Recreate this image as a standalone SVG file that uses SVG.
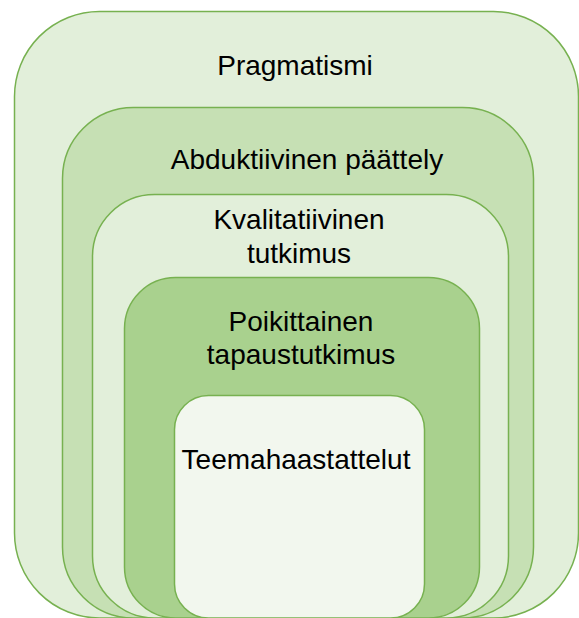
<svg xmlns="http://www.w3.org/2000/svg" width="579" height="618" viewBox="0 0 579 618">
  <style>
    .box { stroke: #77b150; stroke-width: 1.5; }
    .lbl { font-family: "Liberation Sans", Arial, sans-serif; font-size: 28px; fill: #000; text-anchor: middle; }
  </style>
  <rect width="579" height="618" fill="#ffffff"/>
  <g id="pragmatismi">
    <rect class="box" x="14.5" y="11.5" width="564" height="606.5" rx="85" ry="85" fill="#e2efda"/>
    <text class="lbl" x="295" y="75">Pragmatismi</text>
  </g>
  <g id="abduktiivinen-paattely">
    <rect class="box" x="62.5" y="107.5" width="471" height="510.5" rx="71" ry="71" fill="#c6e0b4"/>
    <text class="lbl" x="307" y="169">Abduktiivinen päättely</text>
  </g>
  <g id="kvalitatiivinen-tutkimus">
    <rect class="box" x="92.5" y="194.5" width="416" height="423.5" rx="62" ry="62" fill="#e2efda"/>
    <text class="lbl" x="299" y="229">Kvalitatiivinen</text>
    <text class="lbl" x="299" y="263">tutkimus</text>
  </g>
  <g id="poikittainen-tapaustutkimus">
    <rect class="box" x="124.5" y="277.5" width="355" height="340.5" rx="51" ry="51" fill="#a9d18e"/>
    <text class="lbl" x="301" y="331">Poikittainen</text>
    <text class="lbl" x="301" y="364">tapaustutkimus</text>
  </g>
  <g id="teemahaastattelut">
    <rect class="box" x="174.5" y="395.5" width="250" height="222.5" rx="34" ry="34" fill="#f2f7ee"/>
    <text class="lbl" x="296" y="469">Teemahaastattelut</text>
  </g>
  <g id="connectors"/>
</svg>
